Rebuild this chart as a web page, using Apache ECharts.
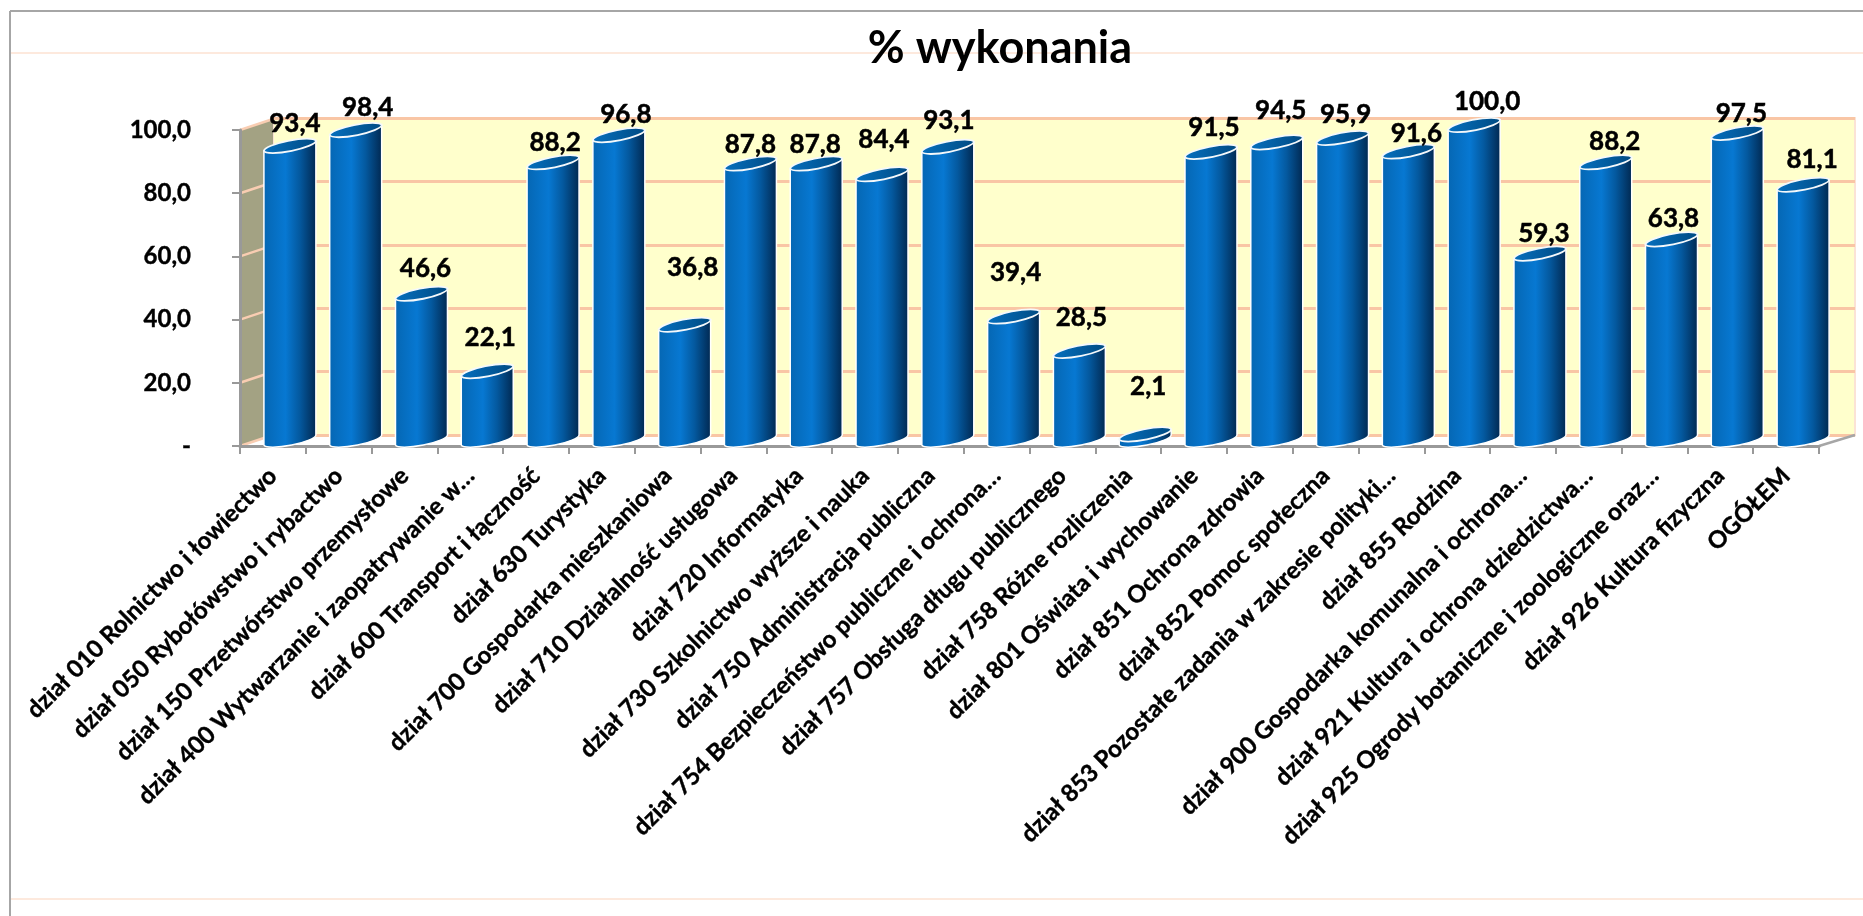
<!DOCTYPE html>
<html>
<head>
    <meta charset="utf-8">
    <title>% wykonania</title>
    <script src="https://cdn.jsdelivr.net/npm/echarts@6/dist/echarts.min.js"></script>
    <style>
        html, body { margin: 0; padding: 0; background: #fff; }
    </style>
</head>
<body>
    <div id="main" style="width:1863px;height:916px;"></div>
    <script>
        var categories = [
            'dział 010 Rolnictwo i łowiectwo',
            'dział 050 Rybołówstwo i rybactwo',
            'dział 150 Przetwórstwo przemysłowe',
            'dział 400 Wytwarzanie i zaopatrywanie w…',
            'dział 600 Transport i łączność',
            'dział 630 Turystyka',
            'dział 700 Gospodarka mieszkaniowa',
            'dział 710 Działalność usługowa',
            'dział 720 Informatyka',
            'dział 730 Szkolnictwo wyższe i nauka',
            'dział 750 Administracja publiczna',
            'dział 754 Bezpieczeństwo publiczne i ochrona…',
            'dział 757 Obsługa długu publicznego',
            'dział 758 Różne rozliczenia',
            'dział 801 Oświata i wychowanie',
            'dział 851 Ochrona zdrowia',
            'dział 852 Pomoc społeczna',
            'dział 853 Pozostałe zadania w zakresie polityki…',
            'dział 855 Rodzina',
            'dział 900 Gospodarka komunalna i ochrona…',
            'dział 921 Kultura i ochrona dziedzictwa…',
            'dział 925 Ogrody botaniczne i zoologiczne oraz…',
            'dział 926 Kultura fizyczna',
            'OGÓŁEM'
        ];
        var values = [93.4, 98.4, 46.6, 22.1, 88.2, 96.8, 36.8, 87.8, 87.8, 84.4, 93.1, 39.4,
            28.5, 2.1, 91.5, 94.5, 95.9, 91.6, 100.0, 59.3, 88.2, 63.8, 97.5, 81.1];
        var yTicks = [0, 20, 40, 60, 80, 100];

        // etykiety byly przesuwane recznie w oryginale
        var labelDx = [22, 29, 21, 20, 19, 24, 25, 17, 16, 19, 18, 19, 19, 20, 20, 21, 20, 25, 30, 21, 26, 19, 21, 26];
        var labelDy = [-28, -28, -31, -40, -26, -27, -63, -25, -25, -41, -32, -50, -39, -54, -30, -38, -29, -24, -29, -26, -27, -27, -25, -31];

        var FONT = 'Lato';
        var DEPTH_X = 33, DEPTH_Y = 11;
        var myChart = echarts.init(document.getElementById('main'));

        function fmt(v) {
            return v === 0 ? '-' : v.toFixed(1).replace('.', ',');
        }

        // boczna sciana i skosne linie siatki
        function renderWall(params, api) {
            var cs = params.coordSys;
            var left = cs.x, top = cs.y, bottom = cs.y + cs.height, right = cs.x + cs.width;
            var children = [{
                type: 'polygon',
                shape: { points: [[left, top], [left + DEPTH_X, top - DEPTH_Y], [left + DEPTH_X, bottom - DEPTH_Y], [left, bottom]] },
                style: { fill: '#a3a283' }
            }, {
                type: 'line',
                shape: { x1: right, y1: bottom, x2: right + 36, y2: bottom - DEPTH_Y },
                style: { stroke: '#a6a6a6', lineWidth: 2.5 }
            }];
            yTicks.forEach(function (t) {
                var p = api.coord([0, t]);
                children.push({
                    type: 'line',
                    shape: { x1: left, y1: p[1], x2: left + DEPTH_X, y2: p[1] - DEPTH_Y },
                    style: { stroke: '#f9cdb2', lineWidth: 2.5 }
                });
            });
            return { type: 'group', children: children };
        }

        function renderBar(params, api) {
            var i = api.value(0);
            var top = api.coord([i, api.value(1)]);
            var base = api.coord([i, 0]);
            var w = api.size([1, 0])[0] * 0.79;
            var x0 = top[0] + 17 - w / 2, x1 = x0 + w;
            var rise = 10;
            var a = w / 2 + 0.5, b = 5.5, rot = -11;
            var y = top[1], yb = base[1] - 1;
            var arc = 'A' + a + ' ' + b + ' ' + rot + ' 0 ';
            var body = 'M' + x0 + ' ' + y + ' L' + x0 + ' ' + yb +
                ' ' + arc + '0 ' + x1 + ' ' + (yb - rise) +
                ' L' + x1 + ' ' + (y - rise) + ' Z';
            var cap = 'M' + x0 + ' ' + y + ' ' + arc + '0 ' + x1 + ' ' + (y - rise) +
                ' ' + arc + '0 ' + x0 + ' ' + y + ' Z';
            return {
                type: 'group',
                children: [{
                    type: 'path',
                    shape: { pathData: body },
                    style: {
                        stroke: '#fff',
                        lineWidth: 1.5,
                        fill: {
                            type: 'linear', x: 0, y: 0, x2: 1, y2: 0,
                            colorStops: [
                                { offset: 0, color: '#0566b2' },
                                { offset: 0.42, color: '#0778d2' },
                                { offset: 0.68, color: '#04599f' },
                                { offset: 1, color: '#01264d' }
                            ]
                        }
                    }
                }, {
                    type: 'path',
                    shape: { pathData: cap },
                    style: {
                        stroke: '#f4f8fb',
                        lineWidth: 1.8,
                        fill: {
                            type: 'linear', x: 0, y: 0, x2: 1, y2: 0,
                            colorStops: [
                                { offset: 0, color: '#0670bf' },
                                { offset: 1, color: '#004a82' }
                            ]
                        }
                    }
                }]
            };
        }

        function renderLabel(params, api) {
            var i = api.value(0);
            var p = api.coord([i, api.value(1)]);
            return {
                type: 'text',
                style: {
                    x: p[0] + labelDx[i],
                    y: p[1] + labelDy[i] + 1,
                    text: fmt(api.value(1)),
                    align: 'center',
                    verticalAlign: 'middle',
                    fontFamily: FONT,
                    fontWeight: 'bold',
                    fontSize: 26,
                    fill: '#000',
                    stroke: '#000',
                    lineWidth: 0.5
                }
            };
        }

        var barData = values.map(function (v, i) { return [i, v]; });

        myChart.setOption({
            animation: false,
            title: {
                text: '% wykonania',
                left: 995,
                top: 21,
                textAlign: 'center',
                textStyle: { fontFamily: FONT, fontWeight: 'bold', fontSize: 45, color: '#000' }
            },
            graphic: [
                { type: 'line', z: 0, shape: { x1: 10, y1: 53, x2: 1863, y2: 53 }, style: { stroke: '#fde9dd', lineWidth: 2 } },
                { type: 'line', z: 0, shape: { x1: 10, y1: 899, x2: 1863, y2: 899 }, style: { stroke: '#fde9dd', lineWidth: 2 } },
                { type: 'line', z: 0, shape: { x1: 10, y1: 11, x2: 1863, y2: 11 }, style: { stroke: '#a6a6a6', lineWidth: 2 } },
                { type: 'line', z: 0, shape: { x1: 10, y1: 11, x2: 10, y2: 916 }, style: { stroke: '#a6a6a6', lineWidth: 2 } }
            ],
            grid: [
                { left: 240, right: 44, top: 130, bottom: 470, z: 1 },
                {
                    left: 273, right: 8, top: 118, bottom: 481, z: 0, show: true,
                    backgroundColor: '#ffffcc', borderColor: '#fbe3d5', borderWidth: 2
                }
            ],
            xAxis: [{
                type: 'category',
                gridIndex: 0,
                data: categories,
                z: 3,
                axisLine: { lineStyle: { color: '#999', width: 3 } },
                axisTick: { show: true, length: 8, lineStyle: { color: '#999', width: 2 } },
                axisLabel: {
                    interval: 0, rotate: 45, margin: 26,
                    fontFamily: FONT, fontWeight: 'bold', fontSize: 24, color: '#000',
                    textBorderColor: '#000', textBorderWidth: 0.4
                }
            }, {
                type: 'value', gridIndex: 1, min: 0, max: 1, show: false, splitLine: { show: false }
            }],
            yAxis: [{
                type: 'value',
                gridIndex: 0,
                min: 0, max: 100, interval: 20,
                z: 3,
                axisLine: { show: true, lineStyle: { color: '#999', width: 3 } },
                axisTick: { show: true, length: 8, lineStyle: { color: '#999', width: 2 } },
                splitLine: { show: false },
                axisLabel: {
                    margin: 49, formatter: fmt, padding: [4, 0, 0, 0],
                    fontFamily: FONT, fontWeight: 'bold', fontSize: 24, color: '#000',
                    textBorderColor: '#000', textBorderWidth: 0.4
                }
            }, {
                type: 'value',
                gridIndex: 1,
                min: 0, max: 100, interval: 20,
                axisLine: { show: false },
                axisTick: { show: false },
                axisLabel: { show: false },
                splitLine: { show: true, lineStyle: { color: '#f9c6a5', width: 3 } }
            }],
            series: [{
                type: 'custom',
                name: 'sciana',
                z: 1,
                silent: true,
                clip: false,
                xAxisIndex: 0, yAxisIndex: 0,
                data: [[0, 0]],
                encode: { x: 0, y: 1 },
                renderItem: renderWall
            }, {
                type: 'custom',
                name: '% wykonania',
                z: 4,
                clip: false,
                xAxisIndex: 0, yAxisIndex: 0,
                data: barData,
                encode: { x: 0, y: 1 },
                renderItem: renderBar
            }, {
                type: 'custom',
                name: 'etykiety',
                z: 5,
                silent: true,
                clip: false,
                xAxisIndex: 0, yAxisIndex: 0,
                data: barData,
                encode: { x: 0, y: 1 },
                renderItem: renderLabel
            }]
        });
    </script>
</body>
</html>
